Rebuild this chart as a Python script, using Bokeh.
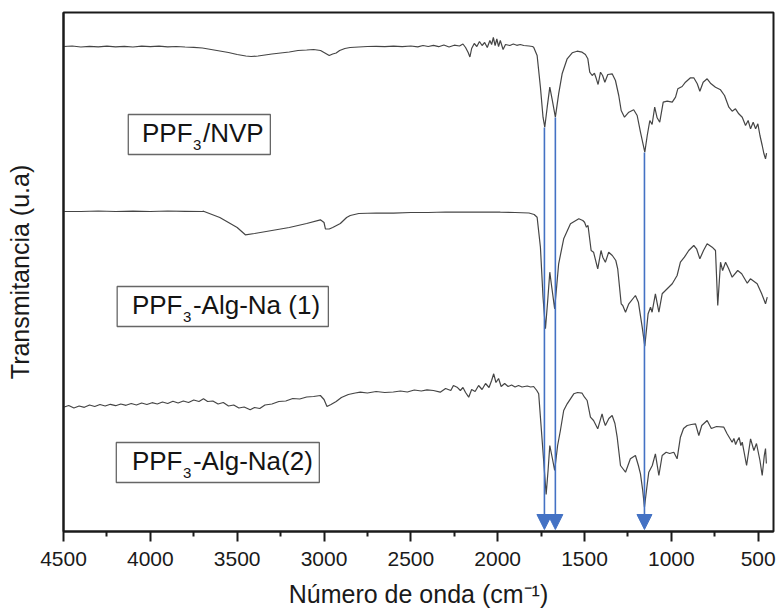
from bokeh.plotting import figure
from bokeh.models import Range1d, FixedTicker, Label, Arrow, NormalHead, ColumnDataSource
from bokeh.embed import file_html
from bokeh.resources import INLINE

# ---------------- data (wavenumber cm^-1, transmittance a.u., offset traces) ----------------
nvp_wn = [4500, 4450, 4400, 4350, 4300, 4250, 4200, 4150, 4100, 4050, 4000, 3950, 3900, 3850, 3800,
          3750, 3700, 3650, 3600, 3550, 3500, 3450, 3420, 3380, 3340, 3300, 3250, 3200, 3150, 3100,
          3060, 3020, 2990, 2970, 2950, 2930, 2910, 2880, 2850, 2800, 2750, 2700, 2650, 2600, 2550,
          2500, 2460, 2430, 2400, 2370, 2340, 2310, 2280, 2250, 2220, 2200, 2185, 2170, 2160, 2150,
          2135, 2120, 2105, 2090, 2075, 2060, 2045, 2035, 2025, 2015, 2005, 1995, 1985, 1969, 1955,
          1930, 1910, 1890, 1870, 1850, 1820, 1800, 1793, 1773, 1754, 1739, 1729, 1715, 1700, 1687,
          1668, 1649, 1629, 1600, 1571, 1543, 1514, 1495, 1481, 1470, 1456, 1443, 1432, 1422, 1408,
          1396, 1383, 1366, 1341, 1322, 1303, 1289, 1270, 1245, 1217, 1197, 1178, 1153, 1139, 1124,
          1111, 1096, 1082, 1067, 1047, 1024, 995, 976, 963, 938, 919, 890, 871, 851, 836,
          817, 794, 775, 746, 717, 694, 669, 650, 631, 612, 592, 573, 558, 544, 529,
          515, 502, 490, 477, 467, 458, 452]
nvp_t = [485, 485.5, 484.5, 485.2, 484.7, 485.4, 484.6, 485.1, 484.5, 485.3, 484.8, 485.4, 484.6, 485, 484.5,
         484.2, 483.5, 482, 480.5, 479, 477, 475.5, 475, 475.5, 476.5, 477.5, 478.5, 479.5, 481, 481.5,
         482, 481, 478, 476, 477.5, 478.5, 481, 483, 484, 484.5, 485, 485.2, 484.8, 485.3, 484.9,
         485.5, 484.7, 486, 485, 486.2, 484.8, 486.5, 484.5, 486.3, 485.5, 487.5, 484, 479, 474.5, 483,
         488, 485, 490, 486, 489, 484, 491, 487, 494, 486, 492.5, 485, 491, 482, 487,
         486, 487.5, 486.2, 487, 486, 485.5, 485, 484.3, 476, 444.3, 414.3, 404.3, 424.3, 444.3, 432.7,
         414.3, 437.7, 457.7, 472.7, 478.7, 480.3, 479.3, 477, 472.7, 459.3, 456, 458.3, 452.7, 447, 459.3,
         456, 449.3, 457, 457.7, 451, 436, 421, 414.3, 419.3, 421.7, 416, 399.3, 379.3, 396, 411,
         407, 424.3, 413.7, 409.3, 429.3, 430.3, 429.3, 434.3, 442.7, 445, 449.3, 453.7, 453.7, 447.7, 440.3,
         449.3, 452.7, 448.3, 444.3, 441.7, 436, 424.3, 420.3, 422.7, 417.7, 414.3, 406, 411, 402.7, 409.3,
         402.7, 407.7, 396, 386, 377.7, 372.7, 378.3]

alg1_wn = [4500, 4400, 4300, 4200, 4100, 4000, 3900, 3800, 3700, 3694, 3600, 3500, 3453, 3400, 3300,
           3200, 3100, 3021, 3000, 2992, 2970, 2950, 2906, 2870, 2849, 2800, 2700, 2601, 2500, 2400,
           2300, 2215, 2100, 2000, 1985, 1900, 1820, 1790, 1773, 1754, 1739, 1725, 1712, 1700, 1690,
           1672, 1660, 1649, 1620, 1581, 1533, 1510, 1500, 1489, 1480, 1462, 1448, 1424, 1405, 1395,
           1380, 1361, 1340, 1320, 1309, 1289, 1280, 1264, 1245, 1207, 1190, 1168, 1153, 1134, 1120,
           1111, 1092, 1072, 1053, 1024, 995, 967, 948, 925, 900, 871, 855, 836, 815, 794,
           765, 746, 733, 717, 705, 688, 670, 650, 618, 595, 563, 545, 506, 480, 458, 448]
alg1_t = [320, 320, 320.5, 320, 320.3, 320, 320.5, 320.2, 320, 320.3, 314, 304, 296.7, 298, 301,
          304, 308, 311.7, 309, 302.7, 302.5, 304, 308, 314, 316, 318, 318.5, 318.3, 319, 319,
          319.5, 319.3, 319.3, 319.5, 319.3, 319, 318.5, 317, 314.3, 284.3, 234.3, 202.7, 231, 259.3, 246,
          222.7, 246, 267.7, 292.7, 307.7, 312.7, 311, 309.3, 304.3, 306, 281, 279.3, 262.7, 281, 274.3,
          269.3, 279.3, 276, 271, 262.7, 227.7, 226, 219.3, 227.7, 236, 229.3, 204.3, 185.3, 217.7, 224.3,
          219.3, 237.7, 219.3, 237.7, 242.7, 247.7, 256, 269.3, 274.3, 281, 286, 282.7, 272.7, 281, 287.7,
          284.3, 281, 226, 269.3, 261, 269.3, 262.7, 254.3, 261, 257.7, 248.3, 252.7, 247.7, 237.7, 227.7, 234.3]

alg2_wn = [4500, 4470, 4440, 4410, 4380, 4350, 4320, 4290, 4260, 4230, 4200, 4170, 4140, 4110, 4080,
           4050, 4020, 3990, 3960, 3930, 3900, 3870, 3840, 3810, 3780, 3750, 3720, 3694, 3670, 3640,
           3610, 3580, 3550, 3520, 3490, 3460, 3425, 3400, 3370, 3340, 3300, 3260, 3220, 3180, 3140,
           3100, 3060, 3021, 3000, 2983, 2960, 2930, 2900, 2860, 2820, 2791, 2750, 2700, 2650, 2601,
           2560, 2520, 2480, 2440, 2407, 2370, 2331, 2300, 2270, 2255, 2234, 2215, 2200, 2185, 2167,
           2150, 2130, 2110, 2090, 2070, 2050, 2035, 2023, 2010, 1995, 1980, 1960, 1940, 1920, 1900,
           1880, 1860, 1830, 1810, 1793, 1775, 1764, 1744, 1721, 1710, 1700, 1685, 1672, 1655, 1639,
           1620, 1600, 1562, 1540, 1514, 1500, 1485, 1466, 1448, 1424, 1399, 1390, 1380, 1360, 1341,
           1325, 1312, 1293, 1280, 1264, 1236, 1207, 1190, 1178, 1165, 1155, 1140, 1130, 1110, 1092,
           1072, 1053, 1030, 1010, 986, 967, 948, 930, 909, 885, 861, 842, 825, 794, 770,
           740, 698, 680, 650, 640, 630, 620, 610, 600, 592, 567, 544, 525, 510, 490,
           477, 465, 458, 453]
alg2_t = [124.3, 126, 123.5, 125.5, 124.2, 126.5, 125, 127, 125.5, 127.2, 125.8, 127.5, 126.2, 128, 126.5,
          128.5, 127, 128.8, 127.5, 129.5, 128, 130.2, 128.5, 130.5, 129, 131.5, 130, 132.7, 130, 130.5,
          127.5, 129, 125.5, 126.5, 123.5, 124.5, 121.7, 124, 123, 126.5, 127.5, 130, 130.5, 133, 132.5,
          134.5, 135, 136, 132, 125, 127, 130, 134, 137, 138.5, 139.3, 138.5, 140, 139, 139.5,
          140.5, 139.5, 141.5, 140.5, 141.7, 141, 139.3, 143, 141, 146, 144.3, 141, 144, 139, 134.3,
          142, 140, 146, 142, 148, 144, 151, 157.7, 149, 153, 145, 148, 145, 146.5, 144.5,
          146, 144.5, 145.5, 144.5, 145, 141, 137.7, 91, 37, 61, 86, 73, 61, 86, 101,
          121, 127.7, 137.7, 139, 138.3, 134.3, 131, 114.3, 111, 102.7, 117.7, 111, 106, 113, 116,
          108, 94.3, 66, 63, 59.3, 72.7, 76, 66, 57.7, 41, 24.3, 46, 59.3, 66, 77.7,
          56, 76, 79.3, 78, 79.3, 72.7, 94.3, 103, 106, 107, 107.7, 96, 106, 111, 103,
          105, 104.3, 98, 89.3, 93, 87, 91, 94, 86, 89.3, 66, 92.7, 81, 88, 71,
          56, 76, 83, 68]

# marked bands (cm^-1) and the transmittance where each marker starts
band_wn = [1731, 1668, 1155]
band_top = [404, 414, 379]

x_ticks = [4500, 4000, 3500, 3000, 2500, 2000, 1500, 1000, 500]
x_minor = [4250, 3750, 3250, 2750, 2250, 1750, 1250, 750]

FONT = "Liberation Sans"
TRACE = "#454545"
BLUE = "#4472C4"

p = figure(width=779, height=612, output_backend="svg", toolbar_location=None,
           x_range=Range1d(4500, 412), y_range=Range1d(0, 519),
           min_border_left=63, min_border_right=6, min_border_top=12, min_border_bottom=81,
           background_fill_color="white", border_fill_color="white")

p.xgrid.visible = False
p.ygrid.visible = False
p.outline_line_color = "#1a1a1a"
p.outline_line_width = 2

# x axis
xa = p.xaxis[0]
xa.ticker = FixedTicker(ticks=x_ticks, minor_ticks=x_minor)
xa.axis_line_width = 2
xa.axis_line_color = "#1a1a1a"
xa.major_tick_in = 0
xa.major_tick_out = 10
xa.minor_tick_in = 0
xa.minor_tick_out = 5
xa.major_tick_line_width = 2
xa.minor_tick_line_width = 2
xa.major_tick_line_color = "#1a1a1a"
xa.minor_tick_line_color = "#1a1a1a"
xa.major_label_text_font = FONT
xa.major_label_text_font_size = "21px"
xa.major_label_text_color = "#1a1a1a"
xa.major_label_standoff = 10
xa.axis_label = "Número de onda (cm⁻¹)"
xa.axis_label_text_font = FONT
xa.axis_label_text_font_size = "25px"
xa.axis_label_text_font_style = "normal"
xa.axis_label_text_color = "#1a1a1a"
xa.axis_label_standoff = 11

# y axis (no ticks)
ya = p.yaxis[0]
ya.ticker = FixedTicker(ticks=[])
ya.major_tick_out = 0
ya.major_tick_in = 0
ya.minor_tick_out = 0
ya.minor_tick_in = 0
ya.axis_line_width = 2
ya.axis_line_color = "#1a1a1a"
ya.axis_label = "Transmitancia (u.a)"
ya.axis_label_text_font = FONT
ya.axis_label_text_font_size = "25px"
ya.axis_label_text_font_style = "normal"
ya.axis_label_text_color = "#1a1a1a"
ya.axis_label_standoff = 30

# spectra
p.line(nvp_wn, nvp_t, line_color=TRACE, line_width=1.2)
p.line(alg1_wn, alg1_t, line_color=TRACE, line_width=1.2)
p.line(alg2_wn, alg2_t, line_color=TRACE, line_width=1.2)

# band markers
src = ColumnDataSource(dict(x0=band_wn, y0=band_top, x1=band_wn, y1=[2] * len(band_wn)))
p.add_layout(Arrow(x_start="x0", y_start="y0", x_end="x1", y_end="y1", source=src,
                   line_color=BLUE, line_width=1.6,
                   end=NormalHead(size=15, fill_color=BLUE, line_color=BLUE, line_width=1)))

# label boxes
box_left = [4127, 4191, 4196]
box_right = [3309, 2975, 3027]
box_top = [417, 245, 89]
box_bottom = [377, 205, 49]
p.quad(left=box_left, right=box_right, top=box_top, bottom=box_bottom,
       fill_color="white", line_color="#666666", line_width=1.3)

labels = [
    (4048, 398.5, [("PPF", 0, 0, "26px"), ("3", 51, -12, "15px"), ("/NVP", 61, 0, "26px")]),
    (4106, 226.5, [("PPF", 0, 0, "26px"), ("3", 51, -12, "15px"), ("-Alg-Na (1)", 61, 0, "26px")]),
    (4106, 70.5, [("PPF", 0, 0, "26px"), ("3", 51, -12, "15px"), ("-Alg-Na(2)", 61, 0, "26px")]),
]
for lx, ly, parts in labels:
    for txt, dx, dy, fs in parts:
        p.add_layout(Label(x=lx, y=ly, x_offset=dx, y_offset=dy, text=txt,
                           text_font=FONT, text_font_size=fs, text_color="#141414",
                           text_baseline="middle", text_align="left"))

open("out.html", "w").write(file_html(p, INLINE))
